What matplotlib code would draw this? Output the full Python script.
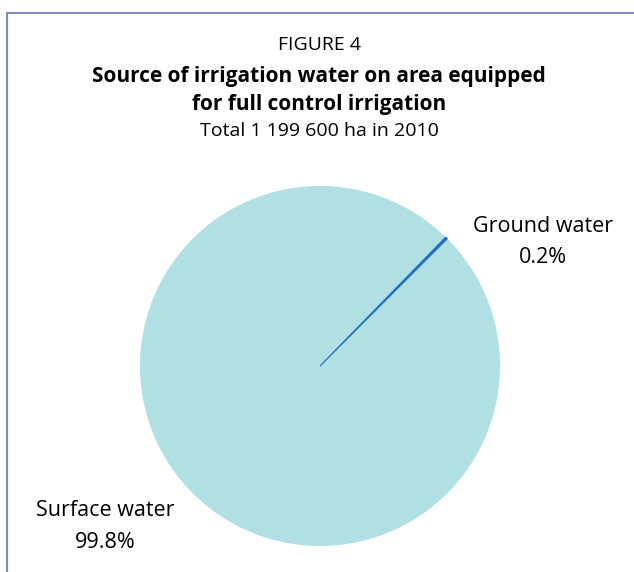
import matplotlib
matplotlib.use("Agg")
import matplotlib.pyplot as plt
from matplotlib.patches import Rectangle

plt.rcParams['font.family'] = ['Open Sans', 'DejaVu Sans']

labels = ["Ground water", "Surface water"]
values = [0.2, 99.8]
pct_labels = ["0.2%", "99.8%"]
colors = ["#1f6fc0", "#b0dfe4"]

W, H = 634, 572
fig = plt.figure(figsize=(W / 100, H / 100), dpi=100)

# frame
fig.patches.append(Rectangle((7 / W, -0.1), 1.2, 1 - 13 / H + 0.1, transform=fig.transFigure,
                             fill=False, edgecolor="#7f8cc0", linewidth=1.5))

fig.text(319 / W, 1 - 45 / H, "FIGURE 4", ha="center", va="center", fontsize=14)
fig.text(319 / W, 1 - 76 / H, "Source of irrigation water on area equipped", ha="center", va="center",
         fontsize=15, fontweight="bold")
fig.text(319 / W, 1 - 104 / H, "for full control irrigation", ha="center", va="center",
         fontsize=15, fontweight="bold")
fig.text(319 / W, 1 - 131 / H, "Total 1 199 600 ha in 2010", ha="center", va="center", fontsize=14)

cx, cy, r = 320, 366, 180
ax = fig.add_axes([(cx - r) / W, (H - cy - r) / H, 2 * r / W, 2 * r / H])
wedges, _ = ax.pie(values, colors=colors, startangle=45, counterclock=True, radius=1,
                   wedgeprops=dict(linewidth=0))
wedges[0].set_edgecolor(colors[0])
wedges[0].set_linewidth(0.8)
wedges[0].set_zorder(3)
ax.set_xlim(-1, 1)
ax.set_ylim(-1, 1)
ax.set_aspect("equal")
ax.axis("off")

fig.text(543 / W, 1 - 226 / H, labels[0], ha="center", va="center", fontsize=15.5)
fig.text(543 / W, 1 - 257 / H, pct_labels[0], ha="center", va="center", fontsize=15.5)
fig.text(105 / W, 1 - 511 / H, labels[1], ha="center", va="center", fontsize=15.5)
fig.text(105 / W, 1 - 542 / H, pct_labels[1], ha="center", va="center", fontsize=15.5)

fig.savefig("out.png", dpi=100)
